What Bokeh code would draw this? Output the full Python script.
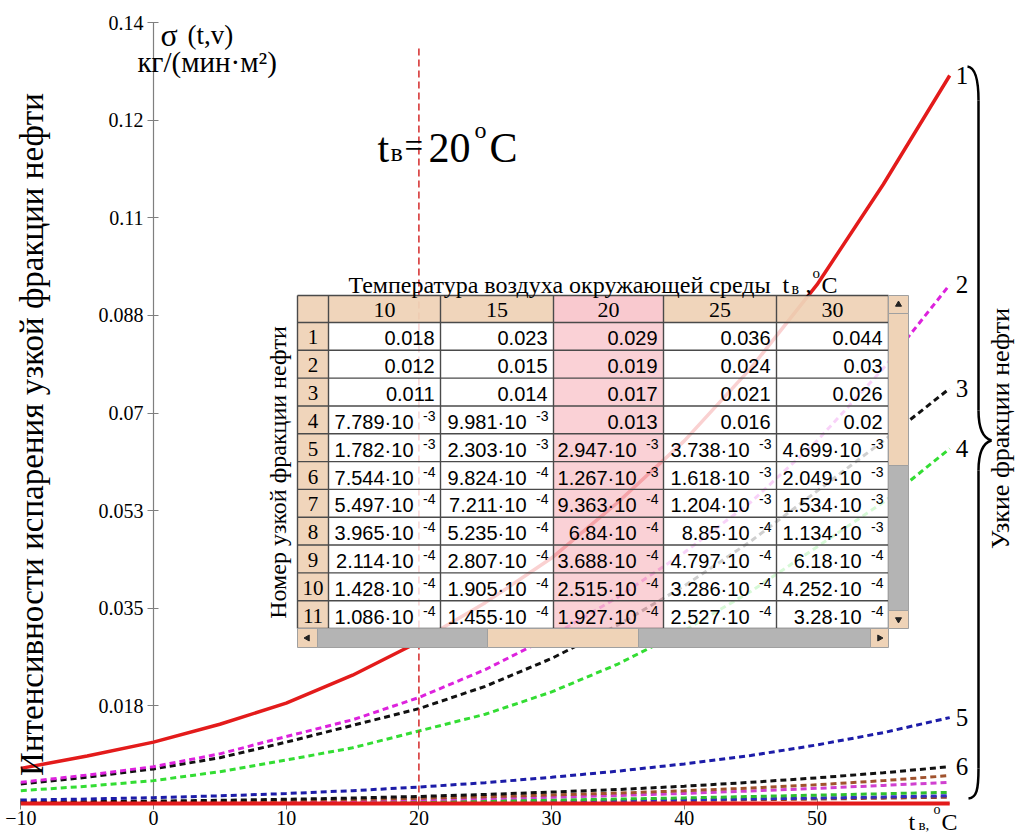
import math
from bokeh.plotting import figure
from bokeh.models import Range1d, LinearAxis, FixedTicker
from bokeh.core.properties import value
from bokeh.embed import file_html
from bokeh.resources import INLINE

# ---------------- data ----------------
t = [-10, -5, 0, 5, 10, 15, 20, 25, 30, 35, 40, 45, 50, 55, 60]
s1 = [0.0063, 0.0085, 0.011, 0.0142, 0.018, 0.023, 0.029, 0.036, 0.044, 0.054, 0.065, 0.078, 0.093, 0.111, 0.1305]
s2 = [0.0038, 0.0051, 0.0066, 0.0089, 0.012, 0.015, 0.019, 0.024, 0.030, 0.037, 0.045, 0.054, 0.065, 0.078, 0.093]
s3 = [0.0035, 0.0047, 0.0062, 0.0082, 0.011, 0.014, 0.017, 0.021, 0.026, 0.032, 0.039, 0.047, 0.056, 0.065, 0.0744]
s4 = [0.0023, 0.0031, 0.0041, 0.0057, 7.789e-3, 9.981e-3, 0.013, 0.016, 0.020, 0.025, 0.031, 0.038, 0.046, 0.054, 0.0636]
s5 = [6.1e-4, 8.0e-4, 1.05e-3, 1.37e-3, 1.782e-3, 2.303e-3, 2.947e-3, 3.738e-3, 4.699e-3, 0.0058, 0.0071, 0.0086, 0.0105, 0.0127, 0.0154]
s6 = [2.4e-4, 3.2e-4, 4.3e-4, 5.7e-4, 7.544e-4, 9.824e-4, 1.267e-3, 1.618e-3, 2.049e-3, 0.0025, 0.0031, 0.0038, 0.0046, 0.0055, 0.0066]
s7 = [1.7e-4, 2.3e-4, 3.1e-4, 4.15e-4, 5.497e-4, 7.211e-4, 9.363e-4, 1.204e-3, 1.534e-3, 0.00187, 0.00228, 0.00277, 0.00335, 0.0041, 0.0050]
s8 = [1.22e-4, 1.65e-4, 2.22e-4, 2.98e-4, 3.965e-4, 5.235e-4, 6.84e-4, 8.85e-4, 1.134e-3, 0.00144, 0.00181, 0.00224, 0.00272, 0.00324, 0.0038]
s9 = [6.3e-5, 8.6e-5, 1.17e-4, 1.58e-4, 2.114e-4, 2.807e-4, 3.688e-4, 4.797e-4, 6.18e-4, 7.9e-4, 1.0e-3, 1.25e-3, 1.5e-3, 1.75e-3, 2.0e-3]
s10 = [4.2e-5, 5.7e-5, 7.8e-5, 1.06e-4, 1.428e-4, 1.905e-4, 2.515e-4, 3.286e-4, 4.252e-4, 5.3e-4, 6.6e-4, 8.1e-4, 9.8e-4, 1.18e-3, 1.4e-3]
s11 = [3.1e-5, 4.3e-5, 5.9e-5, 8.0e-5, 1.086e-4, 1.455e-4, 1.927e-4, 2.527e-4, 3.28e-4, 4.2e-4, 5.3e-4, 6.6e-4, 8.0e-4, 9.6e-4, 1.13e-3]
s_rest = [1e-5, 1e-5, 1e-5, 1e-5, 1e-5, 1e-5, 1e-5, 1e-5, 1e-5, 1e-5, 1e-5, 1e-5, 1e-5, 1e-5, 1e-5]
series = [s1, s2, s3, s4, s5, s6, s7, s8, s9, s10, s11]
colors = ["#e31b1b", "#dd22dd", "#111111", "#33dd33", "#1c1ca8", "#111111",
          "#a0522d", "#d040d0", "#30c030", "#3030c0", "#904030"]
curve_labels = ["1", "2", "3", "4", "5", "6"]
t_sel = 20
sel_top = 0.136

table_temps = [10, 15, 20, 25, 30]
row_names = [str(i) for i in range(1, 12)]

x_ticks = [-10, 0, 10, 20, 30, 40, 50]
y_ticks = [0.0175, 0.035, 0.0525, 0.07, 0.0875, 0.105, 0.1225, 0.14]
y_tick_labels = ["0.018", "0.035", "0.053", "0.07", "0.088", "0.11", "0.12", "0.14"]

# ---------------- figure ----------------
W, H = 1016, 833
p = figure(width=W, height=H, x_range=Range1d(-11.530, 65.033),
           y_range=Range1d(-0.005378, 0.143944), output_backend="svg",
           toolbar_location=None, min_border=0, x_axis_type=None, y_axis_type=None)
p.outline_line_color = None
p.background_fill_color = "white"
p.border_fill_color = "white"
p.extra_x_ranges = {"px": Range1d(0, W)}
p.extra_y_ranges = {"py": Range1d(H, 0)}

SERIF = "Liberation Serif"
SANS = "Liberation Sans"

yax = LinearAxis(fixed_location=0, bounds=(0, 0.14), ticker=FixedTicker(ticks=y_ticks),
                 major_label_overrides={k: v for k, v in zip(y_ticks, y_tick_labels)})
xax = LinearAxis(fixed_location=0, bounds=(-10, 60), ticker=FixedTicker(ticks=x_ticks),
                 major_label_overrides={-10: "\u221210"})
for ax in (yax, xax):
    ax.axis_line_color = "#7f7f7f"
    ax.axis_line_width = 1.2
    ax.major_tick_line_color = "#7f7f7f"
    ax.major_tick_in = 5
    ax.major_tick_out = 6
    ax.minor_tick_line_color = None
    ax.major_label_text_font = SERIF
    ax.major_label_text_font_size = "20px"
    ax.major_label_text_color = "black"
    ax.level = "underlay"
xax.major_label_standoff = 2
yax.major_label_standoff = 4
p.add_layout(yax, "left")
p.add_layout(xax, "below")

# ---------------- curves ----------------
for i in range(10, 0, -1):
    p.line(t, series[i], line_color=colors[i], line_width=3, line_dash="6 4")
p.line(t, s_rest, line_color="#e31b1b", line_width=4)
p.line([t_sel, t_sel], [0, sel_top], line_color="#d42a2a", line_width=1.5, line_dash="7 4")
p.line(t, s1, line_color=colors[0], line_width=3.5)

p.text(x=[t[-1]] * 6, y=[s[-1] for s in series[:6]], text=curve_labels, x_offset=6,
       text_font=value(SERIF), text_font_size=value("25px"), text_baseline="middle",
       text_align="left", text_color="black")


def ptext(x, y, s, size, font=SERIF, align="left", baseline="alphabetic", angle=0.0, color="black"):
    p.text(x=[x], y=[y], text=[s], x_range_name="px", y_range_name="py",
           text_font=value(font), text_font_size=value(f"{size}px"), text_align=align,
           text_baseline=baseline, angle=angle, text_color=color)


def pquad(l, r, top, bot, fill, alpha=1.0, line="#555555", lw=1.0):
    p.quad(left=[l], right=[r], top=[top], bottom=[bot], x_range_name="px", y_range_name="py",
           fill_color=fill, fill_alpha=alpha, line_color=line, line_width=lw)

# ---------------- table ----------------
TAN = "#efd3b7"
PINK = "#f9c6cc"
GRAY = "#b4b4b4"
TL, TR, TOP, HB, BOT, HSB, VSR = 297, 888, 295, 322, 628, 647, 908
col_x = [328, 440, 553, 663, 776, 888]
rh = (BOT - HB) / 11.0
row_y = [HB + i * rh for i in range(12)]
ALPHA = 0.8

pquad(TL, col_x[0], TOP, BOT, TAN, alpha=0.95, line=None)
for j, temp in enumerate(table_temps):
    fill_h = PINK if temp == t_sel else TAN
    pquad(col_x[j], col_x[j + 1], TOP, HB, fill_h, alpha=0.95, line=None)
    fill_b = PINK if temp == t_sel else "white"
    pquad(col_x[j], col_x[j + 1], HB, BOT, fill_b, alpha=ALPHA, line=None)

gx0, gy0, gx1, gy1 = [], [], [], []
for x in [TL] + col_x:
    gx0.append(x); gx1.append(x); gy0.append(TOP); gy1.append(BOT)
for y in [TOP] + row_y:
    gx0.append(TL); gx1.append(TR); gy0.append(y); gy1.append(y)
p.segment(x0=gx0, y0=gy0, x1=gx1, y1=gy1, x_range_name="px", y_range_name="py",
          line_color="#4a4a4a", line_width=1.4)

pquad(TR, VSR, TOP, 313, TAN, line="#a0a0a0")
pquad(TR, VSR, 313, 465, TAN, line="#a0a0a0")
pquad(TR, VSR, 465, 610, GRAY, line="#a0a0a0")
pquad(TR, VSR, 610, BOT, TAN, line="#a0a0a0")
pquad(TL, 317, BOT, HSB, TAN, line="#a0a0a0")
pquad(317, 487, BOT, HSB, GRAY, line="#a0a0a0")
pquad(487, 638, BOT, HSB, TAN, line="#a0a0a0")
pquad(638, 870, BOT, HSB, GRAY, line="#a0a0a0")
pquad(870, TR, BOT, HSB, TAN, line="#a0a0a0")
p.scatter(x=[898, 898, 307, 879], y=[304, 619, 637.5, 637.5], marker="triangle", size=6,
          angle=[0, math.pi, math.pi / 2, -math.pi / 2], x_range_name="px", y_range_name="py",
          fill_color="#222222", line_color="#222222")

for j, temp in enumerate(table_temps):
    ptext((col_x[j] + col_x[j + 1]) / 2, (TOP + HB) / 2 + 1, str(temp), 22, align="center", baseline="middle")
for i, name in enumerate(row_names):
    ptext((TL + col_x[0]) / 2, (row_y[i] + row_y[i + 1]) / 2 + 1, name, 21, align="center", baseline="middle")


def fmt(v):
    if v >= 0.01:
        return f"{v:.3f}".rstrip("0"), ""
    e = math.floor(math.log10(v))
    m = v / 10 ** e
    return f"{m:.4g}" + "\u00b710", str(e)


ti = [t.index(temp) for temp in table_temps]
for i in range(11):
    yc = (row_y[i] + row_y[i + 1]) / 2
    for j in range(5):
        mant, ex = fmt(series[i][ti[j]])
        right = col_x[j + 1]
        if ex:
            ptext(right - 27, yc + 2, mant, 20, font=SANS, align="right", baseline="middle")
            ptext(right - 5, yc - 4, ex, 14, font=SANS, align="right", baseline="middle")
        else:
            ptext(right - 6, yc + 2, mant, 20, font=SANS, align="right", baseline="middle")

# table titles
ptext(559, 284, "Температура воздуха окружающей среды", 24, align="center")
ptext(782, 284, "t", 24)
ptext(791, 288, "в", 16)
ptext(805, 284, ",", 24)
ptext(812, 272, "o", 15)
ptext(821, 284, "C", 24)
ptext(277, 472, "Номер узкой фракции нефти", 24, align="center", baseline="middle", angle=math.pi / 2)

# ---------------- annotations ----------------
ptext(31, 434, "Интенсивности испарения узкой фракции нефти", 33, align="center",
      baseline="middle", angle=math.pi / 2)
ptext(1000, 428, "Узкие фракции нефти", 26, align="center", baseline="middle", angle=math.pi / 2)

ptext(160, 34, "σ", 32)
ptext(187, 34, "(t,v)", 27)
ptext(137, 61, "кг/(мин·м²)", 29)

ptext(377, 147, "t", 42)
ptext(390, 152, "в", 26)
ptext(404, 145, "=", 33)
ptext(428, 147, "20", 42)
ptext(474, 129, "o", 24)
ptext(489, 147, "C", 42)

ptext(908, 821, "t", 24)
ptext(918, 824, "в,", 15)
ptext(933, 809, "o", 14)
ptext(941, 821, "C", 24)

# brace
p.bezier(x0=[967, 978, 991, 978], y0=[66, 410, 440, 768],
         x1=[978, 991, 978, 968], y1=[100, 440, 470, 798],
         cx0=[975, 978, 984, 978], cy0=[67, 430, 442, 790],
         cx1=[978, 984, 978, 976], cy1=[80, 438, 450, 797],
         x_range_name="px", y_range_name="py", line_color="black", line_width=2.5)
p.segment(x0=[978, 978], y0=[100, 470], x1=[978, 978], y1=[410, 768],
          x_range_name="px", y_range_name="py", line_color="black", line_width=2.5)

open("out.html", "w").write(file_html(p, INLINE))
